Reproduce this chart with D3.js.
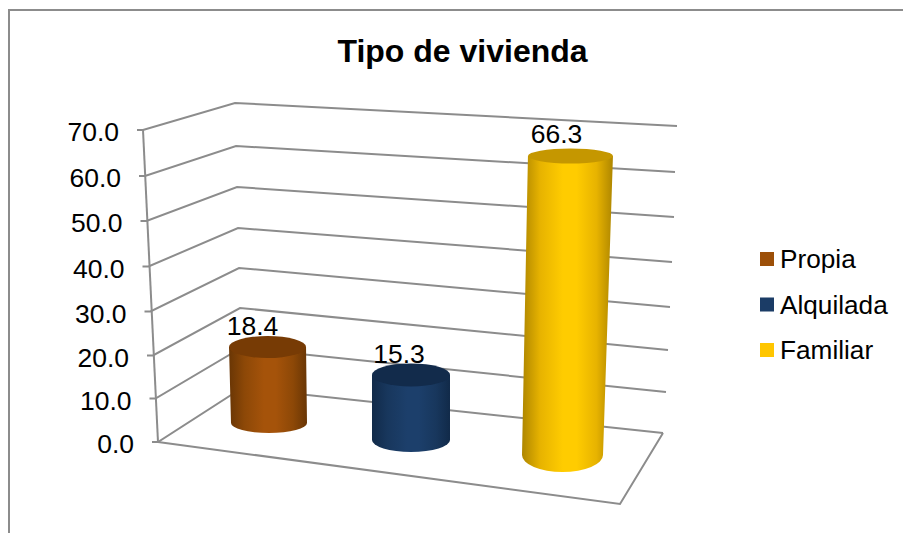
<!DOCTYPE html>
<html><head><meta charset="utf-8">
<script src="https://cdn.jsdelivr.net/npm/d3@7"></script>
<style>html,body{margin:0;padding:0;background:#fff;overflow:hidden}svg{display:block}text{font-family:"Liberation Sans",Arial,sans-serif;fill:#000}</style>
</head><body><svg id="c" width="903" height="533"></svg>
<script>
const chartTitle = "Tipo de vivienda";
const categories = ["Propia", "Alquilada", "Familiar"];
const values = [18.4, 15.3, 66.3];
const tickValues = [0, 10, 20, 30, 40, 50, 60, 70];
const colors = ["#9c4f08", "#1b3c66", "#ffc600"];
const midColors = ["#a5530a", "#1c3f6b", "#ffcc00"];
const edgeColors = ["#693605", "#112a49", "#ae8600"];
const topColors = ["#773b05", "#122b4b", "#c59700"];

const svg = d3.select("#c");

// Projection of the 3D box: one scale per wall edge, all in value units
const frontX = d3.scaleLinear().domain(tickValues).range([158,155.5,153,150.5,148.5,146.5,145,143]);
const frontY = d3.scaleLinear().domain(tickValues).range([442,398.5,355.5,311.5,266.5,221,176,130]);
const backLX = d3.scaleLinear().domain(tickValues).range([242,241,240,239,238,237,236,235]);
const backLY = d3.scaleLinear().domain(tickValues).range([388,348,308,268,228,187,146,103]);
const backRX = d3.scaleLinear().domain(tickValues).range([663,666,668,670,672,674,675,677]);
const backRY = d3.scaleLinear().domain(tickValues).range([433,392,350,307,262,217,172,126]);

// Projection of the bars along the category axis
const idx = categories.map((_, i) => i);
const cat = r => d3.scaleLinear().domain(idx).range(r);
const baseCx = cat([269, 411, 562.5]);
const baseCy = cat([423, 440, 455]);
const unitPx = cat([4.13, 4.25, 4.51]);
const leanPx = cat([-0.08, 0, 0.12]);
const rxBase = cat([38, 39, 40.5]);
const rxTop = cat([38.5, 39, 42.5]);
const ryBase = cat([10, 12, 17]);
const ryTop = cat([11, 11.5, 7.5]);

const wall = "#8c8c8c";
const lineG = svg.append("g").attr("fill","none").attr("stroke",wall).attr("stroke-width",2);
const line = d3.line();

// outer chart frame (only left and top are visible)
lineG.append("path").attr("d", line([[9,533],[9,10],[903,10]]));

// gridlines
tickValues.forEach(v => {
  lineG.append("path").attr("d", line([[frontX(v)-6,frontY(v)],[frontX(v),frontY(v)],[backLX(v),backLY(v)],[backRX(v),backRY(v)]]));
});
// value axis
lineG.append("path").attr("d", line([[frontX(70),frontY(70)],[frontX(0),frontY(0)]]));
// floor front edges
const floorFront = [620, 504];
lineG.append("path").attr("d", line([[frontX(0),frontY(0)],floorFront,[backRX(0),backRY(0)]]));

// tick labels
svg.append("g").selectAll("text").data(tickValues).join("text")
  .attr("x", v => frontX(v) - 24)
  .attr("y", v => frontY(v) + 11)
  .attr("text-anchor","end").attr("font-size",26.5)
  .text(v => d3.format(".1f")(v));

// gradients
const defs = svg.append("defs");
categories.forEach((c,i) => {
  const g = defs.append("linearGradient").attr("id","g"+i);
  [[0,edgeColors[i]],[0.2,d3.interpolateRgb(edgeColors[i],colors[i])(0.7)],[0.45,midColors[i]],[0.6,midColors[i]],[0.82,d3.interpolateRgb(edgeColors[i],colors[i])(0.7)],[1,edgeColors[i]]]
    .forEach(s => g.append("stop").attr("offset",s[0]).attr("stop-color",s[1]));
});

// cylinders
const bars = svg.append("g").selectAll("g").data(values).join("g");
bars.append("path").attr("fill",(d,i)=>`url(#g${i})`).attr("d",(v,i)=>{
  const cx=baseCx(i), cy=baseCy(i), tx=cx+leanPx(i)*v, ty=cy-unitPx(i)*v, rb=rxBase(i), rt=rxTop(i), ryb=ryBase(i);
  return `M${tx-rt},${ty}L${cx-rb},${cy}A${rb},${ryb} 0 0 0 ${cx+rb},${cy}L${tx+rt},${ty}Z`;
});
bars.append("ellipse").attr("fill",(d,i)=>topColors[i])
  .attr("cx",(v,i)=>baseCx(i)+leanPx(i)*v).attr("cy",(v,i)=>baseCy(i)-unitPx(i)*v)
  .attr("rx",(v,i)=>rxTop(i)).attr("ry",(v,i)=>ryTop(i));

// value labels
const labelDx = cat([-15, -12, -14]);
const labelDy = cat([-12, -12, -13]);
svg.append("g").selectAll("text").data(values).join("text")
  .attr("x",(v,i)=>baseCx(i)+leanPx(i)*v+labelDx(i))
  .attr("y",(v,i)=>baseCy(i)-unitPx(i)*v+labelDy(i))
  .attr("text-anchor","middle").attr("font-size",26.5)
  .text(v=>d3.format(".1f")(v));

// title
svg.append("text").attr("x",462.5).attr("y",61.5).attr("text-anchor","middle")
  .attr("font-size",32).attr("font-weight","bold").text(chartTitle);

// legend
const legendY = d3.scalePoint().domain(categories).range([259,350]);
const leg = svg.append("g").selectAll("g").data(categories).join("g");
leg.append("rect").attr("x",760).attr("y",c=>legendY(c)-7).attr("width",14).attr("height",14)
  .attr("fill",(c,i)=>colors[i]);
leg.append("text").attr("x",780).attr("y",c=>legendY(c)+9).attr("font-size",26.2).text(c=>c);
</script></body></html>
